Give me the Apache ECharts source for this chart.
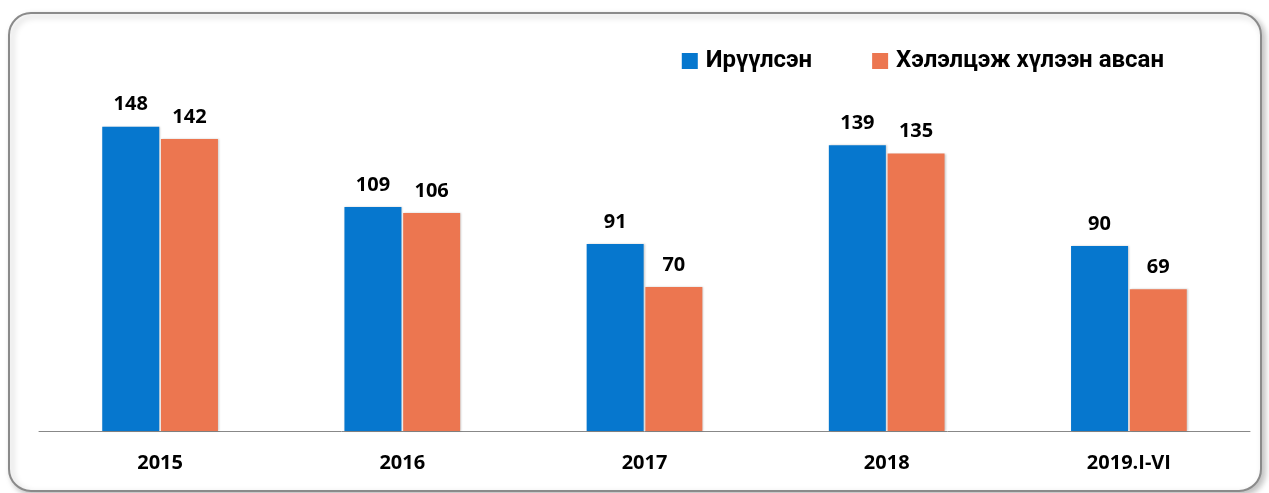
<!DOCTYPE html>
<html lang="mn">
<head>
    <meta charset="UTF-8">
    <title>Chart</title>
    <script type="text/javascript" src="https://cdn.jsdelivr.net/npm/echarts@6/dist/echarts.min.js"></script>
    <style>
        html, body { margin: 0; padding: 0; background: #fff; }
        #main { width: 1269px; height: 493px; }
    </style>
</head>
<body>
<div id="main"></div>
<script type="text/javascript">
    // data
    var years = ['2015', '2016', '2017', '2018', '2019.I-VI'];
    var sent = [148, 109, 91, 139, 90];
    var accepted = [142, 106, 70, 135, 69];
    var seriesNames = ['Ирүүлсэн', 'Хэлэлцэж хүлээн авсан'];

    var myChart = echarts.init(document.getElementById('main'));

    var labelStyle = {
        show: true,
        position: 'top',
        distance: 12,
        color: '#000',
        fontFamily: 'Open Sans',
        fontWeight: 'bold',
        fontSize: 20
    };

    var option = {
        animation: false,
        color: ['#0677CE', '#EC7650'],
        graphic: [{
            type: 'rect',
            shape: {x: 9, y: 13, width: 1252, height: 478, r: 22},
            style: {
                fill: '#fff',
                stroke: '#8a8a8a',
                lineWidth: 2,
                shadowBlur: 6,
                shadowOffsetX: 3,
                shadowOffsetY: 3,
                shadowColor: 'rgba(0,0,0,0.25)'
            },
            z: -10
        }],
        legend: {
            right: 100,
            top: 44,
            itemWidth: 16,
            itemHeight: 16,
            itemGap: 60,
            icon: 'rect',
            textStyle: {
                fontFamily: 'Roboto',
                fontWeight: 'bold',
                fontSize: 24,
                color: '#000',
                padding: [0, 0, 0, 3]
            },
            data: seriesNames
        },
        grid: {
            left: 39,
            right: 19,
            top: 61,
            bottom: 62
        },
        xAxis: {
            type: 'category',
            data: years,
            axisLine: {lineStyle: {color: '#888', width: 1}},
            axisTick: {show: false},
            axisLabel: {
                margin: 22,
                color: '#000',
                fontFamily: 'Open Sans',
                fontWeight: 'bold',
                fontSize: 20
            }
        },
        yAxis: {
            type: 'value',
            min: 0,
            max: 180,
            show: false,
            splitLine: {show: false}
        },
        series: [
            {
                name: seriesNames[0],
                type: 'bar',
                data: sent,
                barWidth: 57,
                barGap: '3%',
                label: labelStyle,
                itemStyle: {shadowBlur: 2, shadowOffsetX: 1, shadowColor: 'rgba(0,0,0,0.2)'}
            },
            {
                name: seriesNames[1],
                type: 'bar',
                data: accepted,
                barWidth: 57,
                label: labelStyle,
                itemStyle: {shadowBlur: 2, shadowOffsetX: 1, shadowColor: 'rgba(0,0,0,0.2)'}
            }
        ]
    };
    myChart.setOption(option);
</script>
</body>
</html>
